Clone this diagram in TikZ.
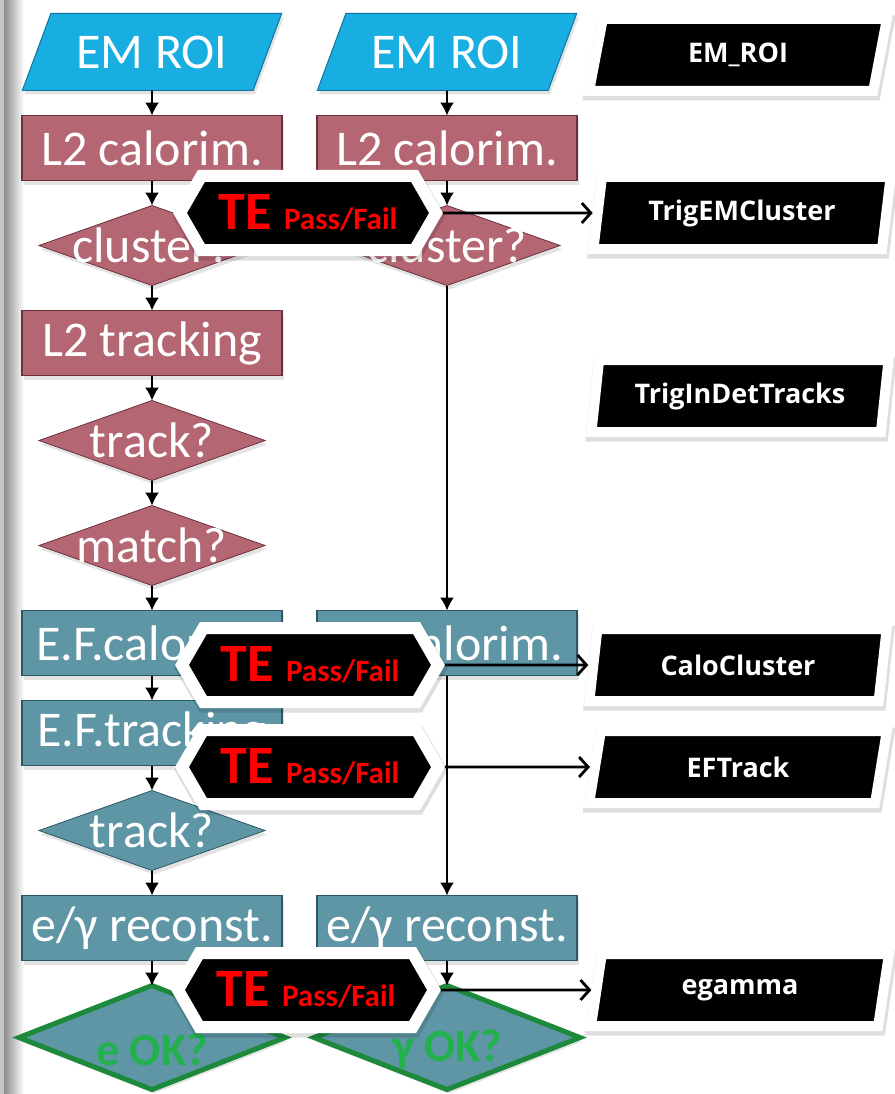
\documentclass[tikz,border=0pt]{standalone}
\usepackage{fontspec}
\setmainfont{Carlito}
\newfontfamily\tagfont{Open Sans}
\usetikzlibrary{shapes.geometric,shapes.symbols,arrows.meta,positioning,shadows}

\definecolor{roiblue}{RGB}{24,174,226}
\definecolor{roiedge}{RGB}{12,118,160}
\definecolor{ltwo}{RGB}{180,102,115}
\definecolor{ltwoedge}{RGB}{108,48,60}
\definecolor{efteal}{RGB}{94,150,165}
\definecolor{efedge}{RGB}{44,88,100}
\definecolor{okgreen}{RGB}{28,138,58}
\definecolor{oktext}{RGB}{34,177,76}

\newcommand{\tepassfail}{{\fontsize{54}{54}\selectfont TE\ }{\fontsize{31}{31}\selectfont Pass/Fail}}

\begin{document}
\begin{tikzpicture}[x=1pt, y=-1pt,
    node distance=25pt,
    every node/.style={outer sep=0pt},
    bigtext/.style={font=\fontsize{50}{52}\selectfont, text=white},
    boxshadow/.style={drop shadow={shadow xshift=2pt, shadow yshift=-4pt, opacity=0.22}},
    roi/.style={trapezium, trapezium left angle=57, trapezium right angle=123, trapezium stretches=true, minimum width=260pt, minimum height=77pt, inner sep=0pt, fill=roiblue, draw=roiedge, line width=1pt, bigtext, boxshadow},
    ltwobox/.style={rectangle, minimum width=260pt, minimum height=65pt, inner sep=0pt, fill=ltwo, draw=ltwoedge, line width=1.2pt, bigtext, boxshadow},
    ltwodec/.style={diamond, minimum width=226pt, minimum height=80pt, inner sep=0pt, fill=ltwo, draw=ltwoedge, line width=0.8pt, boxshadow},
    efbox/.style={rectangle, minimum width=260pt, minimum height=65pt, inner sep=0pt, fill=efteal, draw=efedge, line width=1.2pt, bigtext, boxshadow},
    efdec/.style={diamond, minimum width=226pt, minimum height=80pt, inner sep=0pt, fill=efteal, draw=efedge, line width=0.8pt, boxshadow},
    okdec/.style={diamond, minimum width=266pt, minimum height=104pt, inner sep=0pt, fill=efteal, draw=okgreen, line width=5pt, boxshadow},
    oklabel/.style={font=\bfseries\fontsize{46}{48}\selectfont, text=oktext, yshift=-12pt},
    tebox/.style={signal, signal to=west and east, signal pointer angle=120, minimum width=256pt, minimum height=74pt, inner sep=0pt, fill=black, draw=white, line width=12pt, outer sep=6pt, text=red, font=\bfseries,
        general shadow={shadow xshift=1pt, shadow yshift=-3pt, fill=black, draw=black, line width=15pt, opacity=0.13}},
    tag/.style={trapezium, trapezium left angle=78, trapezium right angle=102, trapezium stretches=true, minimum width=298pt, minimum height=72pt, inner sep=0pt, fill=black, draw=white, line width=10pt, outer sep=5pt, text=white, font=\tagfont\bfseries\fontsize{27}{30}\selectfont,
        general shadow={shadow xshift=1pt, shadow yshift=-3pt, fill=black, draw=black, line width=13pt, opacity=0.13}},
    flow/.style={-{Latex[length=13pt, width=14pt]}, line width=1.7pt},
    feed/.style={-{Straight Barb[length=9pt, width=20pt]}, line width=2.8pt}
]
    \useasboundingbox (0,0) rectangle (894,1094);
    \fill[white] (0,0) rectangle (894,1094);
    \fill[black!22] (0,0) rectangle (4,1094);
    \shade[left color=black!45, right color=white] (4,0) rectangle (24,1094);

    % Electron chain
    \node[roi] (roiA) at (152,52) {EM ROI};
    \node[ltwobox, below=of roiA] (calA) {L2 calorim.};
    \node[ltwodec, below=of calA, label={[bigtext]center:cluster?}] (cluA) {};
    \node[ltwobox, below=of cluA] (trkA) {L2 tracking};
    \node[ltwodec, below=of trkA, label={[bigtext]center:track?}] (tqA) {};
    \node[ltwodec, below=of tqA, label={[bigtext]center:match?}] (matA) {};
    \node[efbox, below=of matA] (efcA) {E.F.calorim.};
    \node[efbox, below=of efcA] (eftA) {E.F.tracking};
    \node[efdec, below=of eftA, label={[bigtext]center:track?}] (etqA) {};
    \node[efbox, below=of etqA] (egA) {e/γ reconst.};
    \node[okdec, below=of egA, label={[oklabel]center:e OK?}] (okA) {};

    % Photon chain
    \node[roi] (roiB) at (447,52) {EM ROI};
    \node[ltwobox, below=of roiB] (calB) {L2 calorim.};
    \node[ltwodec, below=of calB, label={[bigtext]center:cluster?}] (cluB) {};
    \node[efbox, right=35pt of efcA] (efcB) {E.F.calorim.};
    \node[efbox, right=35pt of egA] (egB) {e/γ reconst.};
    \node[okdec, below=of egB, label={[oklabel]center:γ OK?}] (okB) {};

    \foreach \a/\b in {roiA/calA, calA/cluA, cluA/trkA, trkA/tqA, tqA/matA, matA/efcA, efcA/eftA, eftA/etqA, etqA/egA, egA/okA,
                       roiB/calB, calB/cluB, cluB/efcB, efcB/egB, egB/okB}
        \draw[flow] (\a) -- (\b);

    % Trigger elements
    \node[tebox] (te1) at (308,213) {\tepassfail};
    \node[tebox] (te2) at (310,665) {\tepassfail};
    \node[tebox] (te3) at (310,767) {\tepassfail};
    \node[tebox] (te4) at (306,990) {\tepassfail};

    % Stored objects
    \node[tag] (tagroi) at (738,55) {EM\_ROI};
    \node[tag] (tagclus) at (742,213) {TrigEMCluster};
    \node[tag] (tagtrk) at (740,396) {TrigInDetTracks};
    \node[tag] (tagcalo) at (738,665) {CaloCluster};
    \node[tag] (tageft) at (738,767) {EFTrack};
    \node[tag] (tageg) at (740,990) {egamma};

    \draw[feed] (te1) -- (tagclus);
    \draw[feed] (te2) -- (tagcalo);
    \draw[feed] (te3) -- (tageft);
    \draw[feed] (te4) -- (tageg);
\end{tikzpicture}
\end{document}
